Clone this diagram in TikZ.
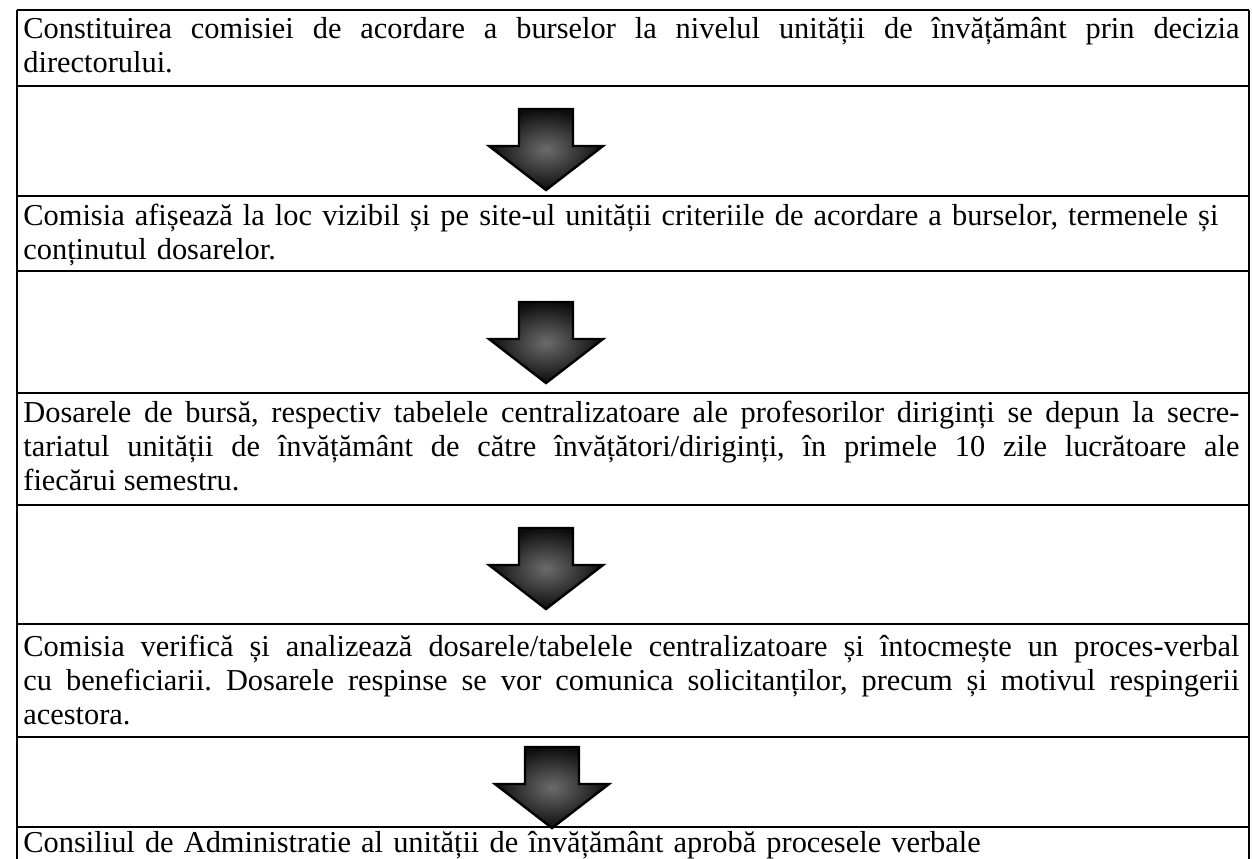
\documentclass[tikz,border=0pt]{standalone}
\usepackage{fontspec}
\setmainfont{Liberation Serif}
\frenchspacing
\begin{document}
\begin{tikzpicture}[x=0.5pt,y=-0.5pt,
  rule/.style={line width=0.9pt, black},
  txt/.style={anchor=north west, inner sep=0pt, text width=608pt,
    font=\fontsize{15.2pt}{17pt}\selectfont},
  blockarrow/.style={draw=black, line width=1.2pt, line join=miter,
    inner color=black!58, outer color=black!95},
  downarrow/.pic={\shade[blockarrow] (-27,0) -- (27,0) -- (27,37) -- (57,37)
    -- (0,81) -- (-57,37) -- (-27,37) -- cycle;}
]
\useasboundingbox (0,0) rectangle (1252,858);
\clip (0,0) rectangle (1252,858);
\fill[white] (0,0) rectangle (1252,858);

% table rules
\foreach \yy in {10,86,196,271,393,505,624,737,827}
  \draw[rule] (17,\yy) -- (1249,\yy);
\draw[rule] (17,10) -- (17,870);
\draw[rule] (1249,10) -- (1249,870);

% text rows
\node[txt, align=justify] (r1) at (23,8) {\noindent\rule{0pt}{15pt}Constituirea comisiei de acordare a burselor la nivelul unității de învățământ prin decizia\linebreak directorului.};
\node[txt, align=left] (r2) at (23,195) {\noindent\rule{0pt}{15pt}Comisia afișează la loc vizibil și pe site-ul unității criteriile de acordare a burselor, termenele și\\ conținutul dosarelor.};
\node[txt, align=justify] (r3) at (23,392) {\noindent\rule{0pt}{15pt}Dosarele de bursă, respectiv tabelele centralizatoare ale profesorilor diriginți se depun la secre-\linebreak tariatul unității de învățământ de către învățători/diriginți, în primele 10 zile lucrătoare ale\linebreak fiecărui semestru.};
\node[txt, align=justify] (r4) at (23,626) {\noindent\rule{0pt}{15pt}Comisia verifică și analizează dosarele/tabelele centralizatoare și întocmește un proces-verbal\linebreak cu beneficiarii. Dosarele respinse se vor comunica solicitanților, precum și motivul respingerii\linebreak acestora.};
\node[txt, align=left] (r5) at (23,822) {\noindent\rule{0pt}{15pt}Consiliul de Administratie al unității de învățământ aprobă procesele verbale};

% block arrows between the rows
\pic (a1) at (546,109) {downarrow};
\pic (a2) at (546,302) {downarrow};
\pic (a3) at (546,528) {downarrow};
\pic (a4) at (552,747) {downarrow};
\end{tikzpicture}
\end{document}
